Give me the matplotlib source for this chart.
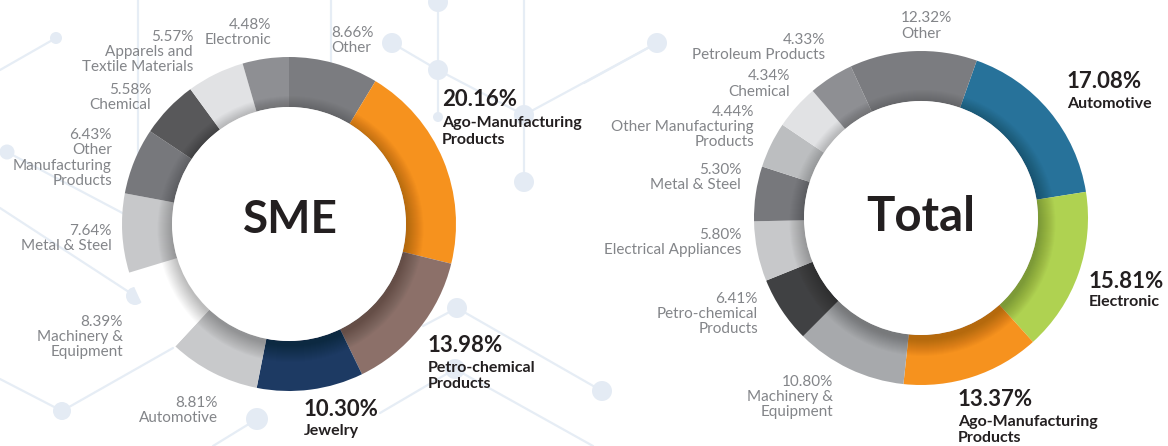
import matplotlib
matplotlib.use("Agg")
import matplotlib.pyplot as plt
from matplotlib.patches import Circle
import numpy as np

# ---------------- data ----------------
sme_categories = ["Other", "Ago-Manufacturing\nProducts", "Petro-chemical\nProducts", "Jewelry",
                  "Automotive", "Machinery &\nEquipment", "Metal & Steel",
                  "Other\nManufacturing\nProducts", "Chemical", "Apparels and\nTextile Materials",
                  "Electronic"]
sme_values = [8.66, 20.16, 13.98, 10.30, 8.81, 8.39, 7.64, 6.43, 5.58, 5.57, 4.48]
sme_colors = ["#7b7c80", "#f6921e", "#8c7069", "#1d3a63", "#c8c9cb", "#ffffff",
              "#c7c8ca", "#77787c", "#58585a", "#e1e2e4", "#8e8f93"]
sme_bold = [False, True, True, True, False, False, False, False, False, False, False]

total_categories = ["Automotive", "Electronic", "Ago-Manufacturing\nProducts",
                    "Machinery &\nEquipment", "Petro-chemical\nProducts", "Electrical Appliances",
                    "Metal & Steel", "Other Manufacturing\nProducts", "Chemical",
                    "Petroleum Products", "Other"]
total_values = [17.08, 15.81, 13.37, 10.80, 6.41, 5.80, 5.30, 4.44, 4.34, 4.33, 12.32]
total_colors = ["#27729a", "#afd251", "#f6921e", "#a7a9ac", "#404143", "#c7c8ca",
                "#77787c", "#bcbec0", "#e1e2e4", "#8e8f93", "#7b7c80"]
total_bold = [True, True, True, False, False, False, False, False, False, False, False]

# ---------------- layout (pixel coordinates, y from top) ----------------
W, H = 1168, 446
def Y(y):
    return H - y

sme_center = (289, 224)
total_center = (921, 218)
R_OUT, RING = 167, 50

# label anchors: (x, y_center, ha) ; bold: (x, pct_y, name_y)
sme_label_pos = [(331, 40.5, "left"), (442, 99, 131.5), (428, 345, 376), (304, 409, 431),
                 (218, 410.5, "right"), (123, 337, "right"), (112, 238.5, "right"),
                 (112, 158, "right"), (151, 97.5, "right"), (193, 52, "right"),
                 (271, 32.5, "right")]
total_label_pos = [(1067, 82, 104), (1089, 281, 302), (958, 399, 430),
                   (833, 397, "right"), (758, 314, "right"), (741, 242.5, "right"),
                   (741, 177.5, "right"), (754, 127, "right"), (790, 84, "right"),
                   (825, 47.5, "right"), (901, 26, "left")]

GRAY_TXT = "#838589"
DARK_TXT = "#231f20"
FONT = ["Lato", "DejaVu Sans"]
BG_LINE = "#e6edf5"
BG_DOT = "#e4ebf4"

fig = plt.figure(figsize=(W / 100, H / 100), dpi=100)
ax = fig.add_axes([0, 0, 1, 1])

# ---------------- decorative background network ----------------
bg_lines = [[(138, 0), (138, 240)], [(0, 70), (56, 38)], [(7, 152), (130, 217)],
            [(0, 208), (135, 296)], [(0, 379), (62, 411), (173, 348)],
            [(257, 419), (213, 446)], [(331, 0), (331, 62)],
            [(392, 43), (438, 70), (524, 115)], [(438, 0), (438, 117)],
            [(524, 0), (524, 182)], [(657, 43), (524, 115)], [(657, 43), (584, 83)],
            [(423, 326), (457, 308), (602, 391)], [(380, 413), (455, 369), (593, 446)]]
for pts in bg_lines:
    xs = [p[0] for p in pts]
    ys = [Y(p[1]) for p in pts]
    ax.plot(xs, ys, color=BG_LINE, lw=1.6, zorder=1, solid_capstyle="round")
bg_dots = [(56, 38, 6), (7, 152, 7.5), (392, 43, 10), (438, 70, 10), (438, 2, 10),
           (438, 117, 5), (524, 115, 10), (524, 182, 10), (657, 43, 10),
           (457, 308, 10), (455, 369, 10), (602, 391, 10), (62, 411, 9),
           (257, 419, 11), (135, 296, 9)]
for (x, y, r) in bg_dots:
    ax.add_patch(Circle((x, Y(y)), r, facecolor=BG_DOT, edgecolor="none", zorder=1))

# ---------------- donuts ----------------
def donut(values, colors, center, start):
    cx, cy = center[0], Y(center[1])
    ax.pie(values, colors=colors, center=(cx, cy), radius=R_OUT, startangle=start,
           counterclock=False, normalize=True,
           wedgeprops=dict(width=RING, linewidth=0, zorder=3))
    r_in = R_OUT - RING
    # soft inner shadow, cast slightly downwards
    for d in np.linspace(0, 16, 17):
        ax.add_patch(Circle((cx + 1.5, cy - 5), r_in + d, facecolor="black",
                            edgecolor="none", alpha=0.014, zorder=4))
    ax.add_patch(Circle((cx, cy), r_in, facecolor="white", edgecolor="none", zorder=5))

donut(sme_values, sme_colors, sme_center, 90)
donut(total_values, total_colors, total_center, 70.5)

ax.text(sme_center[0] + 1, Y(220), "SME", ha="center", va="center", fontsize=33,
        fontweight="bold", color=DARK_TXT, family=FONT, zorder=6)
ax.text(total_center[0], Y(217), "Total", ha="center", va="center", fontsize=34,
        fontweight="bold", color=DARK_TXT, family=FONT, zorder=6)

def labels(cats, vals, bolds, positions):
    for cat, v, b, pos in zip(cats, vals, bolds, positions):
        pct = f"{v:.2f}%"
        if b:
            x, py, ny = pos
            ax.text(x, Y(py), pct, ha="left", va="center", fontsize=16, fontweight="bold",
                    color=DARK_TXT, family=FONT, zorder=6)
            ax.text(x, Y(ny), cat, ha="left", va="center", fontsize=11.5, fontweight="bold",
                    color=DARK_TXT, family=FONT, linespacing=1.2, zorder=6)
        else:
            x, yc, ha = pos
            ax.text(x, Y(yc), pct + "\n" + cat, ha=ha, va="center", multialignment=ha,
                    fontsize=11, color=GRAY_TXT, family=FONT, linespacing=1.11, zorder=6)

labels(sme_categories, sme_values, sme_bold, sme_label_pos)
labels(total_categories, total_values, total_bold, total_label_pos)

ax.set_xlim(0, W)
ax.set_ylim(0, H)
ax.set_aspect("equal", adjustable="box")
ax.axis("off")
fig.savefig("out.png", dpi=100, facecolor="white")
